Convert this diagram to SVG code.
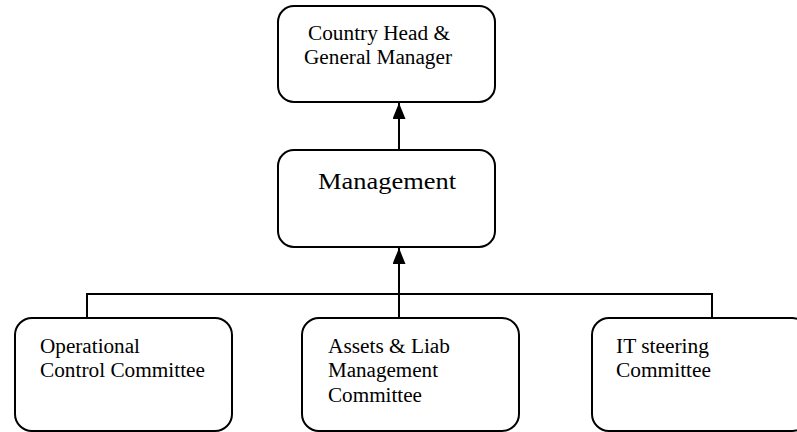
<svg xmlns="http://www.w3.org/2000/svg" width="797" height="432" viewBox="0 0 797 432">
<style>
.box{fill:#fff;stroke:#000;stroke-width:2}
text{font-family:"Liberation Serif","Times New Roman",serif;font-size:20px;fill:#000}
.big{font-size:24px}
.c{fill:none;stroke:#000;stroke-width:2}
</style>
<defs>
<marker id="ah" markerWidth="16" markerHeight="13" refX="16" refY="6.5" orient="auto" markerUnits="userSpaceOnUse" viewBox="0 0 16 13">
<path d="M0,0 L16,6.5 L0,13 Z" fill="#000"/>
</marker>
</defs>
<rect width="797" height="432" fill="#fff"/>
<g id="connectors">
<line class="c" x1="399" y1="150" x2="399" y2="103" marker-end="url(#ah)"/>
<line class="c" x1="399" y1="318" x2="399" y2="248" marker-end="url(#ah)"/>
<polyline class="c" points="87,318 87,294 712,294 712,318"/>
</g>
<g id="country-head">
<rect class="box" x="278" y="6" width="217" height="96" rx="16"/>
<text x="308" y="40" textLength="142" lengthAdjust="spacingAndGlyphs">Country Head &amp;</text>
<text x="304" y="64" textLength="148" lengthAdjust="spacingAndGlyphs">General Manager</text>
</g>
<g id="management">
<rect class="box" x="278" y="150" width="217" height="97" rx="16"/>
<text class="big" x="318" y="189" textLength="138" lengthAdjust="spacingAndGlyphs">Management</text>
</g>
<g id="occ">
<rect class="box" x="15" y="318" width="217" height="113" rx="17"/>
<text x="40" y="353" textLength="100" lengthAdjust="spacingAndGlyphs">Operational</text>
<text x="40" y="377" textLength="165" lengthAdjust="spacingAndGlyphs">Control Committee</text>
</g>
<g id="alm">
<rect class="box" x="302" y="318" width="217" height="113" rx="17"/>
<text x="328" y="353" textLength="122" lengthAdjust="spacingAndGlyphs">Assets &amp; Liab</text>
<text x="328" y="377" textLength="110" lengthAdjust="spacingAndGlyphs">Management</text>
<text x="328" y="402" textLength="94" lengthAdjust="spacingAndGlyphs">Committee</text>
</g>
<g id="it">
<rect class="box" x="592" y="318" width="217" height="113" rx="17"/>
<text x="616" y="353" textLength="93" lengthAdjust="spacingAndGlyphs">IT steering</text>
<text x="616" y="377" textLength="95" lengthAdjust="spacingAndGlyphs">Committee</text>
</g>
</svg>
